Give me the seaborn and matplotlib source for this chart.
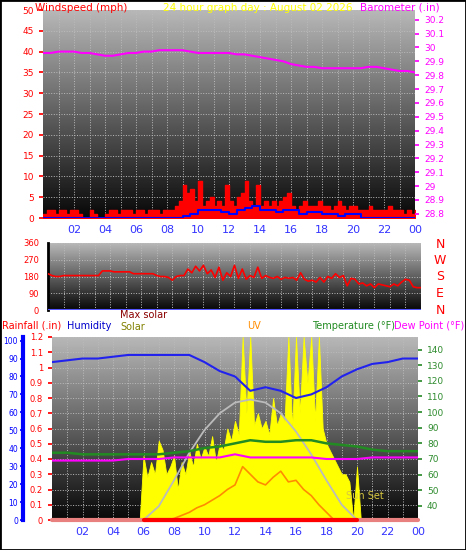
import numpy as np
import matplotlib
matplotlib.use("Agg")
import matplotlib.pyplot as plt
import seaborn as sns

sns.set_theme(style="dark")
plt.rcParams["font.family"] = ["DejaVu Sans"]

W, H = 466, 550

# ---- data ----
hours_labels = ["02", "04", "06", "08", "10", "12", "14", "16", "18", "20", "22", "00"]
t15 = np.arange(97) * 0.25
t30 = np.arange(49) * 0.5
t60 = np.arange(25) * 1.0

gust = [1, 2, 2, 1, 2, 2, 1, 2,
        2, 1, 0, 0, 2, 1, 0, 0,
        1, 2, 2, 1, 2, 2, 2, 1,
        2, 2, 1, 2, 2, 2, 1, 2,
        2, 2, 3, 4, 8, 6, 7, 4,
        9, 3, 4, 5, 3, 4, 3, 8,
        4, 3, 5, 6, 9, 4, 3, 8,
        3, 4, 3, 4, 3, 4, 5, 6,
        3, 2, 3, 4, 3, 3, 3, 4,
        3, 3, 2, 3, 4, 3, 2, 3,
        3, 2, 2, 2, 3, 2, 2, 2,
        2, 3, 2, 2, 2, 1, 2, 1, 2]
wind_avg = [0] * 18 + [0.5, 1, 2, 2, 2, 1.5, 1, 2, 2.5, 3, 2, 2, 1.5, 2, 2, 1,
                      1.5, 1.5, 1, 1, 0.5, 1, 1, 0] + [0] * 7
barometer = [29.96, 29.96, 29.97, 29.97, 29.97, 29.96, 29.96, 29.95, 29.94, 29.94,
             29.95, 29.96, 29.96, 29.97, 29.97, 29.98, 29.98, 29.98, 29.98, 29.97,
             29.96, 29.96, 29.96, 29.96, 29.96, 29.95, 29.95, 29.94, 29.93, 29.92,
             29.91, 29.90, 29.88, 29.87, 29.86, 29.86, 29.85, 29.85, 29.85, 29.85,
             29.85, 29.85, 29.86, 29.86, 29.85, 29.84, 29.83, 29.83, 29.82]
wind_dir = [195, 185, 180, 180, 185, 185, 185, 185,
            185, 185, 185, 185, 185, 185, 210, 210,
            210, 205, 205, 205, 205, 205, 195, 195,
            195, 195, 195, 195, 185, 180, 180, 175,
            160, 180, 185, 185, 220, 200, 235, 210,
            240, 195, 215, 175, 230, 160, 200, 180,
            240, 170, 220, 165, 185, 175, 230, 170,
            185, 175, 170, 180, 165, 175, 170, 175,
            160, 200, 165, 155, 160, 150, 175, 150,
            180, 170, 195, 175, 185, 130, 170, 165,
            140, 145, 130, 140, 120, 140, 135, 130,
            125, 140, 130, 150, 165, 160, 125, 120, 120]
humidity = [88, 89, 90, 90, 91, 92, 92, 92, 92, 92, 88, 83, 80, 72, 74, 72, 68, 70,
            74, 80, 84, 87, 88, 90, 90]
temperature = [74, 74, 73, 73, 73, 73, 73, 73, 74, 75, 77, 78, 80, 82, 81, 81, 82, 82,
               80, 79, 78, 76, 75, 75, 75]
dew_point = [69, 69, 69, 69, 69, 70, 70, 70, 71, 71, 71, 71, 73, 71, 71, 71, 71, 71,
             70, 70, 70, 71, 71, 71, 71]
solar = [0] * 24 + [420, 280, 380, 300, 520, 460, 300, 350,
                    420, 200, 380, 300, 450, 350, 500, 400,
                    480, 420, 550, 380, 500, 460, 600, 520,
                    650, 560, 1200, 700, 1200, 620, 700, 600,
                    650, 560, 800, 620, 700, 650, 1200, 600,
                    1200, 700, 1200, 900, 1200, 650, 1200, 600,
                    500, 450, 400, 350, 300, 300, 250, 0,
                    350, 0, 0, 0, 0, 0, 0, 0,
                    0, 0, 0, 0, 0, 0, 0, 0, 0]
max_solar = [0, 0, 0, 0, 0, 0, 0, 90, 260, 440, 590, 700, 770, 790, 770, 700, 580,
             430, 260, 100, 0, 0, 0, 0, 0]
uv = [0] * 16 + [0.1, 0.3, 0.5, 0.8, 1.0, 1.3, 1.6, 2.0, 2.3, 3.5, 3.0, 2.5, 2.3, 2.8,
                 3.2, 2.5, 2.6, 2.0, 1.6, 1.0, 0.5, 0] + [0] * 11
rain = [0] * 25


def box(l, t, r, b):
    return [l / W, 1 - b / H, (r - l) / W, (b - t) / H]


def backdrop(ax, top=0.72, bottom=0.03):
    grad = np.linspace(bottom, top, 256).reshape(-1, 1)
    ax.imshow(grad, extent=[0, 1, 0, 1], transform=ax.transAxes, cmap="gray",
              vmin=0, vmax=1, aspect="auto", origin="lower", zorder=0)


def time_axis(ax, labels=True):
    ax.set_xlim(0, 24)
    ax.set_xticks(np.arange(2, 25, 2))
    ax.set_xticks(np.arange(1, 25, 2), minor=True)
    ax.set_xticklabels(hours_labels if labels else [], color="#3333ff", fontsize=8)
    ax.grid(True, which="both", color="#bbbbbb", linestyle=":", linewidth=0.7, zorder=1)
    ax.tick_params(axis="x", length=0, pad=5)


fig = plt.figure(figsize=(W / 100, H / 100), dpi=100, facecolor="white")
fig.patches.append(plt.Rectangle((0, 0), 1, 1, transform=fig.transFigure, fill=False,
                                 edgecolor="black", linewidth=2))

# ---- top: wind + barometer ----
ax1 = fig.add_axes(box(43, 10, 415, 218))
backdrop(ax1)
time_axis(ax1)
ax1.set_ylim(0, 50)
ax1.set_yticks(np.arange(0, 51, 5))
ax1.tick_params(axis="y", colors="red", labelsize=6.5, length=3)
ax1.fill_between(t15, gust, step="post", color="red", zorder=3)
ax1.step(t30, wind_avg, where="post", color="#0000ff", linewidth=1.5, zorder=4)
ax1.grid(True, axis="y", color="#bbbbbb", linestyle=":", linewidth=0.7)
axb = ax1.twinx()
axb.set_ylim(28.77, 30.27)
axb.set_yticks(np.round(np.arange(28.8, 30.25, 0.1), 1))
axb.set_yticklabels([f"{v:g}" for v in np.round(np.arange(28.8, 30.25, 0.1), 1)])
axb.tick_params(axis="y", colors="#ff00ff", labelsize=6.5, length=3)
axb.plot(t30, barometer, color="#ff00ff", linewidth=1.5)
for a in (ax1, axb):
    for s in a.spines.values():
        s.set_visible(False)
fig.text(35 / W, 1 - 11 / H, "Windspeed (mph)", color="red", fontsize=7.5)
fig.text(258 / W, 1 - 11 / H, "24 hour graph day : August 02 2026", color="yellow",
         fontsize=7.5, ha="center")
fig.text(440 / W, 1 - 11 / H, "Barometer (.in)", color="#ff00ff", fontsize=7.5, ha="right")

# ---- middle: wind direction ----
ax2 = fig.add_axes(box(48, 243, 421, 310))
backdrop(ax2)
time_axis(ax2, labels=False)
ax2.set_ylim(0, 360)
ax2.set_yticks([0, 90, 180, 270, 360])
ax2.tick_params(axis="y", colors="red", labelsize=6, length=3)
ax2.grid(True, axis="y", color="#bbbbbb", linestyle=":", linewidth=0.7)
ax2.plot(t15, wind_dir, color="red", linewidth=1.2, zorder=3)
ax2.axhline(0, color="#5555ff", linewidth=1.5, zorder=3)
for s in ax2.spines.values():
    s.set_visible(False)
ax2.spines["left"].set_visible(True)
ax2.spines["left"].set_color("black")
ax2.spines["left"].set_linewidth(2)
for i, d in enumerate(["N", "W", "S", "E", "N"]):
    fig.text(440 / W, 1 - (244 + i * 16.5) / H, d, color="red", fontsize=9,
             ha="center", va="center")

# ---- bottom: rain/humidity/solar/uv/temperature ----
ax3 = fig.add_axes(box(52, 337, 418, 520))
backdrop(ax3)
time_axis(ax3)
ax3.set_ylim(0, 1.2)
ax3.set_yticks(np.round(np.arange(0, 1.21, 0.1), 1))
ax3.set_yticklabels([f"{v:g}" for v in np.round(np.arange(0, 1.21, 0.1), 1)])
ax3.tick_params(axis="y", colors="red", labelsize=6, length=3)
ax3.grid(True, axis="y", color="#bbbbbb", linestyle=":", linewidth=0.7)

axs = ax3.twinx()
axs.set_ylim(0, 1200)
axs.set_yticks([])
axs.fill_between(t15, solar, color="yellow", linewidth=0.6, edgecolor="yellow", zorder=2)
axs.plot(t60, max_solar, color="#bbbbbb", linewidth=1.3)
axs.text(19.3, 140, "Sun Set", color="#d8c840", fontsize=7)

axu = ax3.twinx()
axu.set_ylim(0, 12)
axu.set_yticks([])
axu.plot(t30, uv, color="#ff8c00", linewidth=1.2)

axh = ax3.twinx()
axh.yaxis.set_ticks_position("left")
axh.spines["left"].set_position(("outward", 21))
axh.set_ylim(0, 102)
axh.set_yticks(np.arange(0, 101, 10))
axh.tick_params(axis="y", colors="#0000ff", labelsize=5.5, length=2, pad=1.5, left=True,
                labelleft=True, right=False, labelright=False)
axh.plot(t60, humidity, color="#2222ee", linewidth=1.5)

axt = ax3.twinx()
axt.set_ylim(31, 148)
axt.set_yticks(np.arange(40, 141, 10))
axt.tick_params(axis="y", colors="#2e8b2e", labelsize=6.5, length=3)
axt.plot(t60, temperature, color="#228b22", linewidth=1.8)
axt.plot(t60, dew_point, color="#ff00ff", linewidth=1.5)

axr = ax3.twinx()
axr.set_ylim(0, 1.2)
axr.set_yticks([])
axr.plot(t60, rain, color="#e88080", linewidth=3, clip_on=False)
axr.plot([6, 20], [0, 0], color="red", linewidth=3, clip_on=False)

for a in (ax3, axs, axu, axh, axt, axr):
    for s in a.spines.values():
        s.set_visible(False)
axh.spines["left"].set_visible(True)
axh.spines["left"].set_color("#0000ff")
axh.spines["left"].set_linewidth(3)

fig.text(2 / W, 1 - 329 / H, "Rainfall (.in)", color="red", fontsize=7)
fig.text(67 / W, 1 - 329 / H, "Humidity", color="#0000cc", fontsize=7)
fig.text(120 / W, 1 - 318 / H, "Max solar", color="#8b0000", fontsize=7)
fig.text(120 / W, 1 - 330 / H, "Solar", color="#808000", fontsize=7)
fig.text(247 / W, 1 - 329 / H, "UV", color="#ff8c00", fontsize=7)
fig.text(312 / W, 1 - 329 / H, "Temperature (°F)", color="#228b22", fontsize=7)
fig.text(464 / W, 1 - 329 / H, "Dew Point (°F)", color="#ff00ff", fontsize=7, ha="right")

fig.savefig("out.png", dpi=100)
